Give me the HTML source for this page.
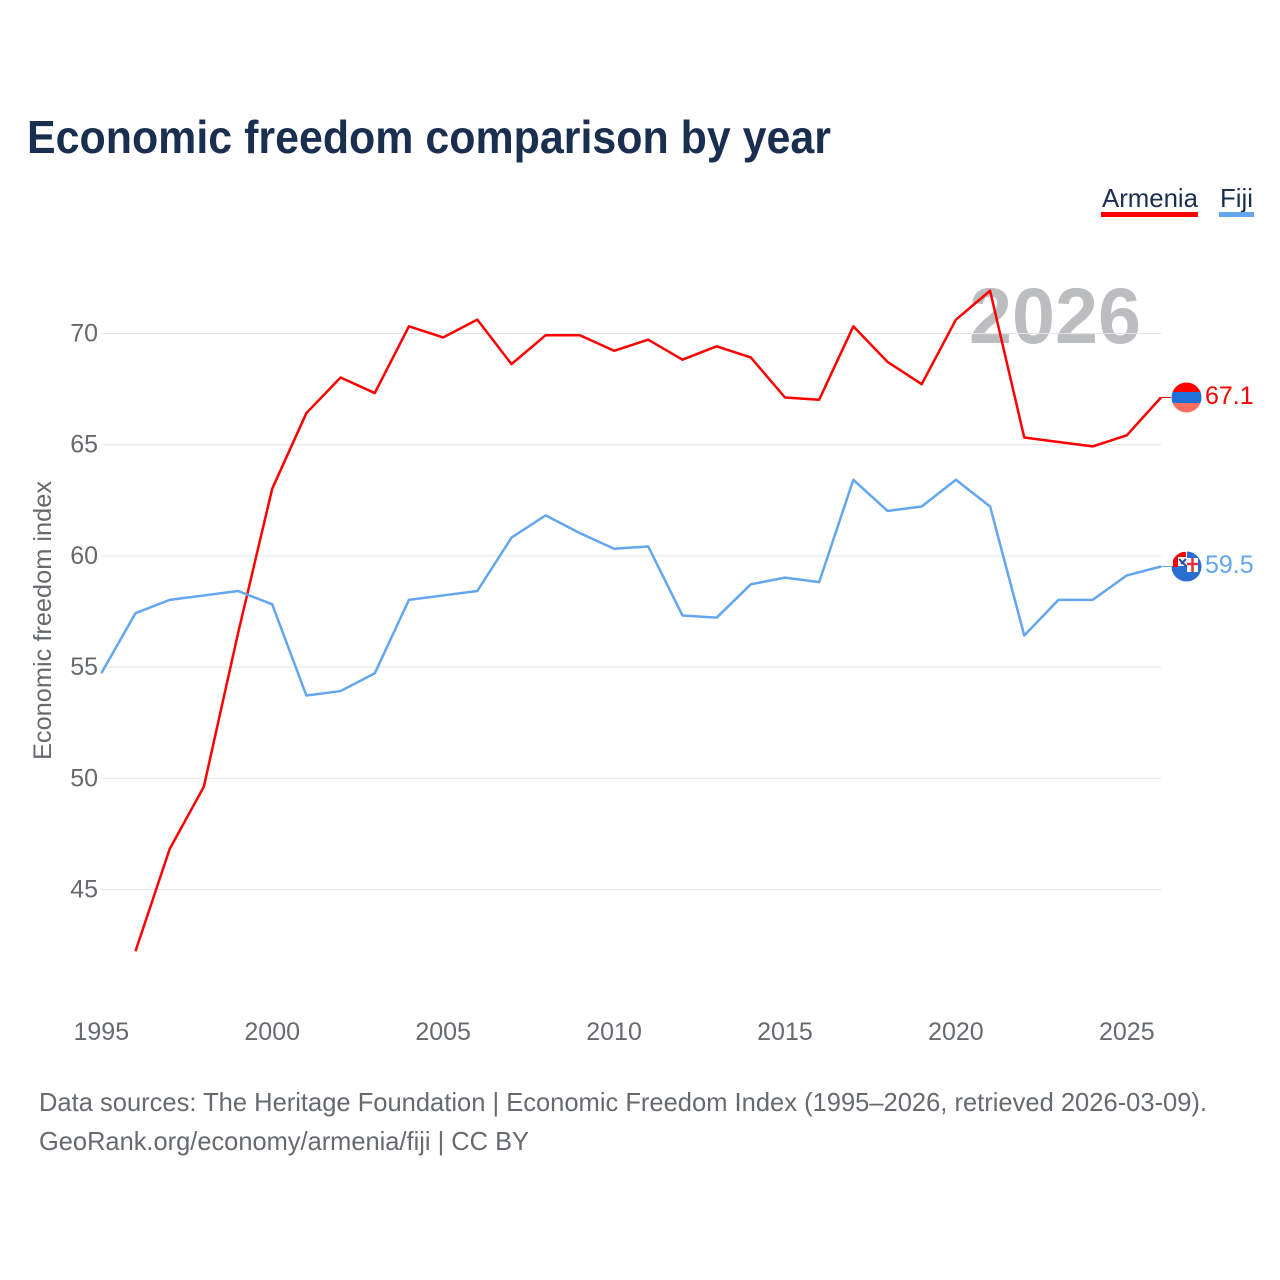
<!DOCTYPE html>
<html lang="en">
<head>
<meta charset="utf-8">
<title>Economic freedom comparison by year</title>
<style>
html,body{margin:0;padding:0;background:#fff;width:1280px;height:1280px;overflow:hidden}
svg{display:block}
text{font-family:"Liberation Sans",sans-serif}
</style>
</head>
<body>
<svg id="chart" width="1280" height="1280" viewBox="0 0 1280 1280" xmlns="http://www.w3.org/2000/svg">
  <defs>
    <clipPath id="clip-armenia"><circle cx="1186.5" cy="397.5" r="15"/></clipPath>
    <clipPath id="clip-fiji"><circle cx="1186.5" cy="566.5" r="15"/></clipPath>
  </defs>
  <text x="27" y="153" font-size="46" font-weight="700" fill="#1a2f4f" textLength="804" lengthAdjust="spacingAndGlyphs">Economic freedom comparison by year</text>

  <text x="1102" y="207" font-size="26" fill="#1a2f4f" textLength="96" lengthAdjust="spacingAndGlyphs">Armenia</text>
  <rect x="1101" y="212" width="97" height="5" fill="#ff0000"/>
  <text x="1220" y="207" font-size="26" fill="#1a2f4f" textLength="33" lengthAdjust="spacingAndGlyphs">Fiji</text>
  <rect x="1219" y="212" width="35" height="5" fill="#63a6ef"/>

  <text x="969" y="343" font-size="79" font-weight="700" fill="#bcbdbf" textLength="172" lengthAdjust="spacingAndGlyphs">2026</text>

  <g id="grid"></g>
  <g id="y-ticks"></g>
  <g id="x-ticks"></g>

  <text transform="translate(51,760) rotate(-90)" x="0" y="0" font-size="25" fill="#666a6e" textLength="279" lengthAdjust="spacingAndGlyphs">Economic freedom index</text>

  <g id="series"></g>

  <g clip-path="url(#clip-armenia)">
    <rect x="1171" y="382" width="31" height="10" fill="#ff0000"/>
    <rect x="1171" y="392" width="31" height="11" fill="#2170d8"/>
    <rect x="1171" y="403" width="31" height="10" fill="#ff6f61"/>
  </g>
  <g clip-path="url(#clip-fiji)">
    <rect x="1171" y="551" width="31" height="31" fill="#2a6fd0"/>
    <rect x="1171" y="551" width="16" height="15" fill="#ffffff"/>
    <path d="M1173 552h13v5h-8v10h-5z" fill="#ff0000"/>
    <path d="M1179 559l8 8M1186 559l-5 5" stroke="#2a4f9a" stroke-width="2" fill="none"/>
    <rect x="1187" y="558" width="11" height="14" fill="#ffffff"/>
    <path d="M1192.500 558v14M1187 564h11" stroke="#e8303a" stroke-width="2.500" fill="none"/>
  </g>

  <text x="39" y="1111" font-size="26" fill="#666a6e" textLength="1168" lengthAdjust="spacingAndGlyphs">Data sources: The Heritage Foundation | Economic Freedom Index (1995–2026, retrieved 2026-03-09).</text>
  <text x="39" y="1150" font-size="26" fill="#666a6e" textLength="490" lengthAdjust="spacingAndGlyphs">GeoRank.org/economy/armenia/fiji | CC BY</text>
</svg>
<script>
const years = [1995,1996,1997,1998,1999,2000,2001,2002,2003,2004,2005,2006,2007,2008,2009,2010,2011,2012,2013,2014,2015,2016,2017,2018,2019,2020,2021,2022,2023,2024,2025,2026];
const armeniaValues = [null,42.2,46.8,49.6,56.5,63.0,66.4,68.0,67.3,70.3,69.8,70.6,68.6,69.9,69.9,69.2,69.7,68.8,69.4,68.9,67.1,67.0,70.3,68.7,67.7,70.6,71.9,65.3,65.1,64.9,65.4,67.1];
const fijiValues = [54.7,57.4,58.0,58.2,58.4,57.8,53.7,53.9,54.7,58.0,58.2,58.4,60.8,61.8,61.0,60.3,60.4,57.3,57.2,58.7,59.0,58.8,63.4,62.0,62.2,63.4,62.2,56.4,58.0,58.0,59.1,59.5];
const yTickValues = [45,50,55,60,65,70];
const xTickValues = [1995,2000,2005,2010,2015,2020,2025];

const NS = 'http://www.w3.org/2000/svg';
function xScale(year){ return 101.3 + (year - 1995) * (1161 - 101.3) / (2026 - 1995); }
function yScale(v){ return 889.5 - (v - 45) * (889.5 - 333.5) / (70 - 45); }

const grid = document.getElementById('grid');
const yTicks = document.getElementById('y-ticks');
const xTicks = document.getElementById('x-ticks');
const seriesGroup = document.getElementById('series');

yTickValues.forEach(function(v){
  const line = document.createElementNS(NS,'line');
  
  
  line.setAttribute('x1', xScale(1995));
  line.setAttribute('x2', xScale(2026));
  line.setAttribute('y1', yScale(v));
  line.setAttribute('y2', yScale(v));
  line.setAttribute('stroke', '#e2e3e4');
  line.setAttribute('stroke-width', '1');
  grid.appendChild(line);

  const label = document.createElementNS(NS,'text');
  
  
  label.setAttribute('x', 98);
  label.setAttribute('y', yScale(v) + 8);
  label.setAttribute('text-anchor', 'end');
  label.setAttribute('font-size', '25');
  label.setAttribute('fill', '#666a6e');
  label.textContent = v;
  yTicks.appendChild(label);
});

xTickValues.forEach(function(yr){
  const label = document.createElementNS(NS,'text');
  
  
  label.setAttribute('x', xScale(yr));
  label.setAttribute('y', 1040);
  label.setAttribute('text-anchor', 'middle');
  label.setAttribute('font-size', '25');
  label.setAttribute('fill', '#666a6e');
  label.textContent = yr;
  xTicks.appendChild(label);
});

function drawSeries(values, color, lineName, leaderName, labelName){
  let d = '';
  values.forEach(function(v, i){
    if (v === null) return;
    d += (d ? 'L' : 'M') + xScale(years[i]).toFixed(2) + ' ' + (yScale(v) - 0.5).toFixed(2);
  });
  const path = document.createElementNS(NS,'path');
  
  
  path.setAttribute('d', d);
  path.setAttribute('fill', 'none');
  path.setAttribute('stroke', color);
  path.setAttribute('stroke-width', '2.5');
  path.setAttribute('stroke-linejoin', 'round');
  seriesGroup.appendChild(path);

  const last = values[values.length - 1];
  const leader = document.createElementNS(NS,'line');
  
  
  leader.setAttribute('x1', xScale(2026));
  leader.setAttribute('x2', 1171);
  leader.setAttribute('y1', yScale(last) - 0.5);
  leader.setAttribute('y2', yScale(last) - 0.5);
  leader.setAttribute('stroke', color);
  leader.setAttribute('stroke-width', '1');
  seriesGroup.appendChild(leader);

  const label = document.createElementNS(NS,'text');
  
  
  label.setAttribute('x', 1205);
  label.setAttribute('y', yScale(last) + 6);
  label.setAttribute('font-size', '25');
  label.setAttribute('fill', color);
  label.textContent = last.toFixed(1);
  seriesGroup.appendChild(label);
}
drawSeries(armeniaValues, '#ff0000', 'armenia-line', 'armenia-leader', 'armenia-end-label');
drawSeries(fijiValues, '#63a6ef', 'fiji-line', 'fiji-leader', 'fiji-end-label');
</script>
</body>
</html>
